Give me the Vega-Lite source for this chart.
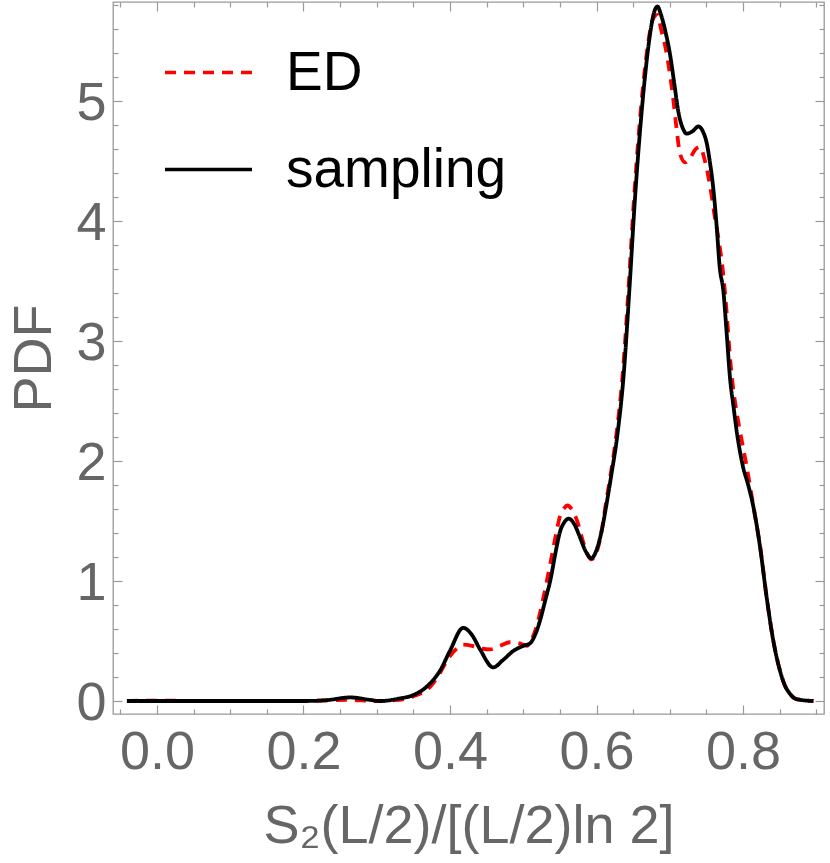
{
  "$schema": "https://vega.github.io/schema/vega-lite/v6.json",
  "autosize": "none",
  "width": 711,
  "height": 712,
  "padding": {"left": 113, "top": 2, "right": 6, "bottom": 149},
  "background": "white",
  "datasets": {
    "curves": [
      {"series": "ED", "x": -0.041, "y": 0.0},
      {"series": "ED", "x": 0.0, "y": 0.004},
      {"series": "ED", "x": 0.05, "y": 0.0},
      {"series": "ED", "x": 0.1, "y": 0.0},
      {"series": "ED", "x": 0.2, "y": 0.0},
      {"series": "ED", "x": 0.26, "y": 0.01},
      {"series": "ED", "x": 0.3, "y": 0.0},
      {"series": "ED", "x": 0.33, "y": 0.01},
      {"series": "ED", "x": 0.35, "y": 0.04},
      {"series": "ED", "x": 0.373, "y": 0.12},
      {"series": "ED", "x": 0.385, "y": 0.22},
      {"series": "ED", "x": 0.396, "y": 0.34},
      {"series": "ED", "x": 0.408, "y": 0.43},
      {"series": "ED", "x": 0.418, "y": 0.47},
      {"series": "ED", "x": 0.43, "y": 0.46},
      {"series": "ED", "x": 0.441, "y": 0.44},
      {"series": "ED", "x": 0.455, "y": 0.43},
      {"series": "ED", "x": 0.468, "y": 0.46},
      {"series": "ED", "x": 0.482, "y": 0.49},
      {"series": "ED", "x": 0.495, "y": 0.48},
      {"series": "ED", "x": 0.505, "y": 0.46},
      {"series": "ED", "x": 0.512, "y": 0.52},
      {"series": "ED", "x": 0.518, "y": 0.62},
      {"series": "ED", "x": 0.527, "y": 0.85},
      {"series": "ED", "x": 0.537, "y": 1.15},
      {"series": "ED", "x": 0.545, "y": 1.4},
      {"series": "ED", "x": 0.55, "y": 1.54},
      {"series": "ED", "x": 0.556, "y": 1.61},
      {"series": "ED", "x": 0.56, "y": 1.63},
      {"series": "ED", "x": 0.566, "y": 1.6},
      {"series": "ED", "x": 0.573, "y": 1.51},
      {"series": "ED", "x": 0.583, "y": 1.3},
      {"series": "ED", "x": 0.593, "y": 1.18},
      {"series": "ED", "x": 0.6, "y": 1.24},
      {"series": "ED", "x": 0.607, "y": 1.42},
      {"series": "ED", "x": 0.612, "y": 1.62},
      {"series": "ED", "x": 0.619, "y": 1.88},
      {"series": "ED", "x": 0.627, "y": 2.22},
      {"series": "ED", "x": 0.636, "y": 2.75},
      {"series": "ED", "x": 0.644, "y": 3.48},
      {"series": "ED", "x": 0.651, "y": 4.18},
      {"series": "ED", "x": 0.658, "y": 4.76},
      {"series": "ED", "x": 0.665, "y": 5.22},
      {"series": "ED", "x": 0.672, "y": 5.55},
      {"series": "ED", "x": 0.678, "y": 5.7},
      {"series": "ED", "x": 0.683, "y": 5.72},
      {"series": "ED", "x": 0.688, "y": 5.6},
      {"series": "ED", "x": 0.694, "y": 5.45},
      {"series": "ED", "x": 0.7, "y": 5.23},
      {"series": "ED", "x": 0.705, "y": 5.0},
      {"series": "ED", "x": 0.709, "y": 4.78},
      {"series": "ED", "x": 0.714, "y": 4.56},
      {"series": "ED", "x": 0.721, "y": 4.49},
      {"series": "ED", "x": 0.728, "y": 4.53},
      {"series": "ED", "x": 0.735, "y": 4.6},
      {"series": "ED", "x": 0.741, "y": 4.62},
      {"series": "ED", "x": 0.748, "y": 4.5},
      {"series": "ED", "x": 0.755, "y": 4.29},
      {"series": "ED", "x": 0.761, "y": 4.05},
      {"series": "ED", "x": 0.768, "y": 3.79},
      {"series": "ED", "x": 0.773, "y": 3.55},
      {"series": "ED", "x": 0.778, "y": 3.2},
      {"series": "ED", "x": 0.781, "y": 2.95},
      {"series": "ED", "x": 0.785, "y": 2.68},
      {"series": "ED", "x": 0.79, "y": 2.45},
      {"series": "ED", "x": 0.796, "y": 2.24},
      {"series": "ED", "x": 0.805, "y": 1.95},
      {"series": "ED", "x": 0.816, "y": 1.55},
      {"series": "ED", "x": 0.823, "y": 1.3},
      {"series": "ED", "x": 0.832, "y": 0.87},
      {"series": "ED", "x": 0.841, "y": 0.51},
      {"series": "ED", "x": 0.85, "y": 0.26},
      {"series": "ED", "x": 0.857, "y": 0.13},
      {"series": "ED", "x": 0.864, "y": 0.06},
      {"series": "ED", "x": 0.871, "y": 0.02},
      {"series": "ED", "x": 0.878, "y": 0.01},
      {"series": "ED", "x": 0.896, "y": 0.0},
      {"series": "sampling", "x": -0.041, "y": 0.0},
      {"series": "sampling", "x": 0.0, "y": 0.0},
      {"series": "sampling", "x": 0.05, "y": 0.0},
      {"series": "sampling", "x": 0.1, "y": 0.0},
      {"series": "sampling", "x": 0.15, "y": 0.0},
      {"series": "sampling", "x": 0.2, "y": 0.0},
      {"series": "sampling", "x": 0.23, "y": 0.006},
      {"series": "sampling", "x": 0.264, "y": 0.03},
      {"series": "sampling", "x": 0.29, "y": 0.01},
      {"series": "sampling", "x": 0.305, "y": 0.0},
      {"series": "sampling", "x": 0.33, "y": 0.02},
      {"series": "sampling", "x": 0.35, "y": 0.05},
      {"series": "sampling", "x": 0.37, "y": 0.13},
      {"series": "sampling", "x": 0.387, "y": 0.26},
      {"series": "sampling", "x": 0.4, "y": 0.42},
      {"series": "sampling", "x": 0.418, "y": 0.61},
      {"series": "sampling", "x": 0.43, "y": 0.55},
      {"series": "sampling", "x": 0.441, "y": 0.43},
      {"series": "sampling", "x": 0.459, "y": 0.28},
      {"series": "sampling", "x": 0.472, "y": 0.34},
      {"series": "sampling", "x": 0.487, "y": 0.42},
      {"series": "sampling", "x": 0.5, "y": 0.46},
      {"series": "sampling", "x": 0.509, "y": 0.48},
      {"series": "sampling", "x": 0.516, "y": 0.55},
      {"series": "sampling", "x": 0.523, "y": 0.675},
      {"series": "sampling", "x": 0.53, "y": 0.84},
      {"series": "sampling", "x": 0.537, "y": 1.01},
      {"series": "sampling", "x": 0.545, "y": 1.27},
      {"series": "sampling", "x": 0.55, "y": 1.41},
      {"series": "sampling", "x": 0.556, "y": 1.49},
      {"series": "sampling", "x": 0.562, "y": 1.52},
      {"series": "sampling", "x": 0.57, "y": 1.47},
      {"series": "sampling", "x": 0.577, "y": 1.37},
      {"series": "sampling", "x": 0.585, "y": 1.25},
      {"series": "sampling", "x": 0.593, "y": 1.19},
      {"series": "sampling", "x": 0.6, "y": 1.26},
      {"series": "sampling", "x": 0.607, "y": 1.42},
      {"series": "sampling", "x": 0.613, "y": 1.62},
      {"series": "sampling", "x": 0.62, "y": 1.88},
      {"series": "sampling", "x": 0.628, "y": 2.2},
      {"series": "sampling", "x": 0.637, "y": 2.72},
      {"series": "sampling", "x": 0.645, "y": 3.45},
      {"series": "sampling", "x": 0.652, "y": 4.15},
      {"series": "sampling", "x": 0.659, "y": 4.73},
      {"series": "sampling", "x": 0.666, "y": 5.2},
      {"series": "sampling", "x": 0.673, "y": 5.56},
      {"series": "sampling", "x": 0.678, "y": 5.73},
      {"series": "sampling", "x": 0.683, "y": 5.79},
      {"series": "sampling", "x": 0.688, "y": 5.72},
      {"series": "sampling", "x": 0.694, "y": 5.58},
      {"series": "sampling", "x": 0.7, "y": 5.4},
      {"series": "sampling", "x": 0.706, "y": 5.15},
      {"series": "sampling", "x": 0.712, "y": 4.9},
      {"series": "sampling", "x": 0.718, "y": 4.77},
      {"series": "sampling", "x": 0.723, "y": 4.73},
      {"series": "sampling", "x": 0.731, "y": 4.75},
      {"series": "sampling", "x": 0.739, "y": 4.79},
      {"series": "sampling", "x": 0.745, "y": 4.75},
      {"series": "sampling", "x": 0.75, "y": 4.66},
      {"series": "sampling", "x": 0.755, "y": 4.48},
      {"series": "sampling", "x": 0.759, "y": 4.29},
      {"series": "sampling", "x": 0.764, "y": 3.95},
      {"series": "sampling", "x": 0.768, "y": 3.62},
      {"series": "sampling", "x": 0.773, "y": 3.42},
      {"series": "sampling", "x": 0.778, "y": 3.03},
      {"series": "sampling", "x": 0.782, "y": 2.7},
      {"series": "sampling", "x": 0.787, "y": 2.45},
      {"series": "sampling", "x": 0.791, "y": 2.26},
      {"series": "sampling", "x": 0.8, "y": 1.95},
      {"series": "sampling", "x": 0.807, "y": 1.8},
      {"series": "sampling", "x": 0.814, "y": 1.62},
      {"series": "sampling", "x": 0.823, "y": 1.29},
      {"series": "sampling", "x": 0.832, "y": 0.87},
      {"series": "sampling", "x": 0.841, "y": 0.51},
      {"series": "sampling", "x": 0.85, "y": 0.26},
      {"series": "sampling", "x": 0.857, "y": 0.13},
      {"series": "sampling", "x": 0.864, "y": 0.06},
      {"series": "sampling", "x": 0.871, "y": 0.02},
      {"series": "sampling", "x": 0.878, "y": 0.01},
      {"series": "sampling", "x": 0.896, "y": 0.0}
    ]
  },
  "data": {"name": "curves"},
  "layer": [
    {
      "mark": {"type": "line", "opacity": 0},
      "encoding": {
        "x": {"field": "x", "type": "quantitative",
          "axis": {"orient": "bottom", "values": [-0.05, 0.05, 0.1, 0.15, 0.25, 0.3, 0.35, 0.45, 0.5, 0.55, 0.65, 0.7, 0.75, 0.85, 0.9], "tickSize": -5, "labels": false, "title": null}},
        "y": {"field": "y", "type": "quantitative",
          "axis": {"orient": "left", "values": [0.2, 0.4, 0.6, 0.8, 1.2, 1.4, 1.6, 1.8, 2.2, 2.4, 2.6, 2.8, 3.2, 3.4, 3.6, 3.8, 4.2, 4.4, 4.6, 4.8, 5.2, 5.4, 5.6, 5.8], "tickSize": -5, "labels": false, "title": null}}
      }
    },
    {
      "mark": {"type": "line", "opacity": 0},
      "encoding": {
        "x": {"field": "x", "type": "quantitative",
          "axis": {"orient": "top", "values": [0, 0.2, 0.4, 0.6, 0.8], "tickSize": -9, "labels": false, "title": null}},
        "y": {"field": "y", "type": "quantitative",
          "axis": {"orient": "right", "values": [0, 1, 2, 3, 4, 5], "tickSize": -9, "labels": false, "title": null}}
      }
    },
    {
      "mark": {"type": "line", "opacity": 0},
      "encoding": {
        "x": {"field": "x", "type": "quantitative",
          "axis": {"orient": "top", "values": [-0.05, 0.05, 0.1, 0.15, 0.25, 0.3, 0.35, 0.45, 0.5, 0.55, 0.65, 0.7, 0.75, 0.85, 0.9], "tickSize": -5, "labels": false, "title": null}},
        "y": {"field": "y", "type": "quantitative",
          "axis": {"orient": "right", "values": [0.2, 0.4, 0.6, 0.8, 1.2, 1.4, 1.6, 1.8, 2.2, 2.4, 2.6, 2.8, 3.2, 3.4, 3.6, 3.8, 4.2, 4.4, 4.6, 4.8, 5.2, 5.4, 5.6, 5.8], "tickSize": -5, "labels": false, "title": null}}
      }
    },
    {
      "mark": {"type": "line", "strokeWidth": 3.8, "interpolate": "monotone"},
      "encoding": {
        "x": {"field": "x", "type": "quantitative",
          "scale": {"domain": [-0.06, 0.9104], "nice": false, "zero": false},
          "axis": {"orient": "bottom", "values": [0, 0.2, 0.4, 0.6, 0.8], "format": ".1f", "tickSize": -9, "labelPadding": 20,
            "title": "S₂(L/2)/[(L/2)ln 2]", "titleBaseline": "alphabetic", "titleY": 128}},
        "y": {"field": "y", "type": "quantitative",
          "scale": {"domain": [-0.1083, 5.8275], "nice": false, "zero": false},
          "axis": {"orient": "left", "values": [0, 1, 2, 3, 4, 5], "format": "d", "tickSize": -9, "labelPadding": 16, "labelOffset": 2,
            "title": "PDF", "titleBaseline": "alphabetic", "titleAngle": 270, "titleX": -63, "titleY": 356, "titleAlign": "center"}},
        "color": {"field": "series", "type": "nominal",
          "scale": {"domain": ["ED", "sampling"], "range": ["#ff0000", "#000000"]},
          "legend": {"title": null, "orient": "none", "legendX": 50, "legendY": 25, "symbolType": "stroke", "symbolSize": 7569, "symbolStrokeWidth": 3.5, "labelFontSize": 55, "labelFont": "Liberation Sans", "labelColor": "#000000", "labelOffset": 32, "labelLimit": 0, "rowPadding": 23, "padding": 0}},
        "strokeDash": {"field": "series", "type": "nominal",
          "scale": {"domain": ["ED", "sampling"], "range": [[11, 8], [1, 0]]},
          "legend": {"title": null, "orient": "none", "legendX": 50, "legendY": 25, "symbolType": "stroke", "symbolSize": 7569, "symbolStrokeWidth": 3.5, "labelFontSize": 55, "labelFont": "Liberation Sans", "labelColor": "#000000", "labelOffset": 32, "labelLimit": 0, "rowPadding": 23, "padding": 0}}
      }
    }
  ],
  "resolve": {"axis": {"x": "independent", "y": "independent"}},
  "config": {
    "view": {"stroke": "#999999", "strokeWidth": 1.3},
    "axis": {
      "grid": false,
      "domain": false,
      "ticks": true,
      "tickColor": "#999999",
      "tickWidth": 1.2,
      "labelFont": "Liberation Sans",
      "labelFontSize": 54,
      "labelColor": "#666666",
      "titleFont": "Liberation Sans",
      "titleFontSize": 54,
      "titleFontWeight": "normal",
      "titleColor": "#666666",
      "labelFlush": false,
      "labelOverlap": false
    }
  }
}
